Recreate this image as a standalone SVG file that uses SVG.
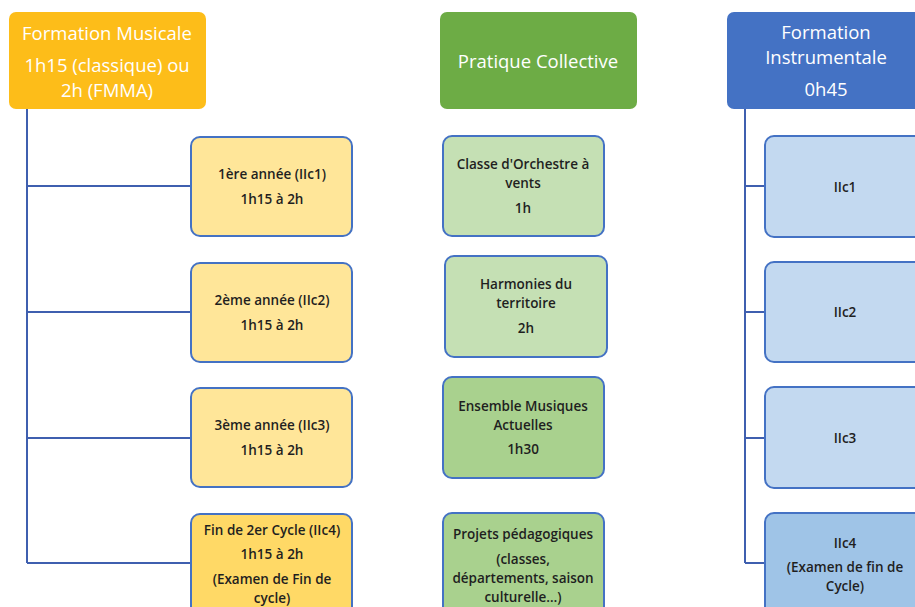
<svg xmlns="http://www.w3.org/2000/svg" width="915" height="607" viewBox="0 0 915 607">
<style>
.hd{font-family:"Open Sans","Liberation Sans",sans-serif;font-size:18.5px;fill:#fff;text-anchor:middle;dominant-baseline:central}
.tx{font-family:"Open Sans","Liberation Sans",sans-serif;font-size:13.5px;font-weight:600;fill:#1f1f1f;text-anchor:middle;dominant-baseline:central}
.bx{stroke:#4472C4;stroke-width:2}
.ln{stroke:#3F5FAF;stroke-width:2;fill:none}
</style>
<rect width="915" height="607" fill="#fff"/>
<g id="connectors">
<path class="ln" d="M27 109V563M27 186H191M27 312H191M27 438H191M27 563H191"/>
<path class="ln" d="M745 109V563M745 186H765M745 312H765M745 438H765M745 563H765"/>
</g>
<g id="fm-header"><rect x="9" y="12" width="197" height="97" rx="7" fill="#FDBD19"/>
<text class="hd" x="107" y="32">Formation Musicale</text>
<text class="hd" x="107" y="64">1h15 (classique) ou</text>
<text class="hd" x="107" y="89">2h (FMMA)</text></g>
<g id="pc-header"><rect x="440" y="12" width="197" height="97" rx="7" fill="#6DAC45"/>
<text class="hd" x="538" y="60">Pratique Collective</text></g>
<g id="fi-header"><rect x="727" y="12" width="200" height="97" rx="7" fill="#4472C4"/>
<text class="hd" x="826" y="31">Formation</text>
<text class="hd" x="826" y="56">Instrumentale</text>
<text class="hd" x="826" y="88">0h45</text></g>
<g id="fm1"><rect class="bx" x="191" y="137" width="161" height="99" rx="9" fill="#FFE699"/>
<text class="tx" x="272" y="174">1ère année (IIc1)</text><text class="tx" x="272" y="199">1h15 à 2h</text></g>
<g id="fm2"><rect class="bx" x="191" y="263" width="161" height="99" rx="9" fill="#FFE699"/>
<text class="tx" x="272" y="300">2ème année (IIc2)</text><text class="tx" x="272" y="325">1h15 à 2h</text></g>
<g id="fm3"><rect class="bx" x="191" y="388" width="161" height="99" rx="9" fill="#FFE699"/>
<text class="tx" x="272" y="425">3ème année (IIc3)</text><text class="tx" x="272" y="450">1h15 à 2h</text></g>
<g id="fm4"><rect class="bx" x="191" y="514" width="161" height="110" rx="9" fill="#FFD966"/>
<text class="tx" x="272" y="530">Fin de 2er Cycle (IIc4)</text><text class="tx" x="272" y="554">1h15 à 2h</text>
<text class="tx" x="272" y="579">(Examen de Fin de</text><text class="tx" x="272" y="598">cycle)</text></g>
<g id="pc1"><rect class="bx" x="443" y="136" width="161" height="100" rx="9" fill="#C5E0B4"/>
<text class="tx" x="523" y="164">Classe d'Orchestre à</text><text class="tx" x="523" y="183">vents</text><text class="tx" x="523" y="208">1h</text></g>
<g id="pc2"><rect class="bx" x="445" y="256" width="162" height="101" rx="9" fill="#C5E0B4"/>
<text class="tx" x="526" y="284">Harmonies du</text><text class="tx" x="526" y="303">territoire</text><text class="tx" x="526" y="328">2h</text></g>
<g id="pc3"><rect class="bx" x="443" y="377" width="161" height="101" rx="9" fill="#A9D18E"/>
<text class="tx" x="523" y="406">Ensemble Musiques</text><text class="tx" x="523" y="425">Actuelles</text><text class="tx" x="523" y="449">1h30</text></g>
<g id="pc4"><rect class="bx" x="443" y="513" width="161" height="110" rx="9" fill="#A9D18E"/>
<text class="tx" x="523" y="534">Projets pédagogiques</text><text class="tx" x="523" y="559">(classes,</text>
<text class="tx" x="523" y="578">départements, saison</text><text class="tx" x="523" y="597">culturelle…)</text></g>
<g id="fi1"><rect class="bx" x="765" y="136" width="170" height="101" rx="9" fill="#C3D9F0"/>
<text class="tx" x="845" y="187">IIc1</text></g>
<g id="fi2"><rect class="bx" x="765" y="262" width="170" height="100" rx="9" fill="#C3D9F0"/>
<text class="tx" x="845" y="312">IIc2</text></g>
<g id="fi3"><rect class="bx" x="765" y="387" width="170" height="101" rx="9" fill="#C3D9F0"/>
<text class="tx" x="845" y="438">IIc3</text></g>
<g id="fi4"><rect class="bx" x="765" y="513" width="170" height="110" rx="9" fill="#9FC4E7"/>
<text class="tx" x="845" y="543">IIc4</text><text class="tx" x="845" y="567">(Examen de fin de</text><text class="tx" x="845" y="586">Cycle)</text></g>
</svg>
